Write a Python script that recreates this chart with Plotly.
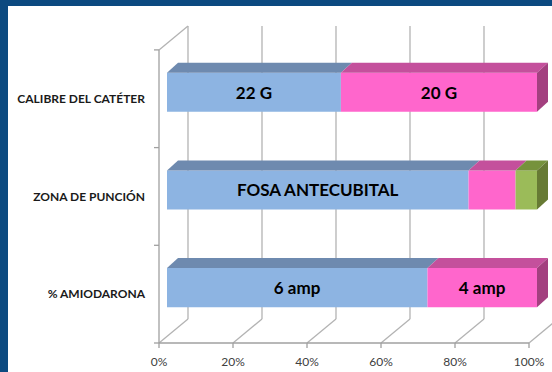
import plotly.graph_objects as go

# ---------------- data ----------------
categories = ["% AMIODARONA", "ZONA DE PUNCIÓN", "CALIBRE DEL CATÉTER"]  # bottom -> top
serie1 = [70.4, 81.5, 47.0]
serie2 = [29.6, 12.7, 53.0]
serie3 = [0.0, 5.8, 0.0]
labels1 = ["6 amp", "FOSA ANTECUBITAL", "22 G"]
labels2 = ["4 amp", "", "20 G"]
labels3 = ["", "", ""]
x_ticks = [0, 20, 40, 60, 80, 100]
x_tick_labels = ["0%", "20%", "40%", "60%", "80%", "100%"]

# ---------------- style / projection ----------------
W, H = 552, 372
PX_X = 3.7          # pixels per percent
PX_Y = 97.7         # pixels per category unit
X0PIX, Y0PIX = 159, 343
ML, MT, MB = 150, 20, 23
DX, DY = 29 / PX_X, 24 / PX_Y          # full wall depth
OX, OY = 8 / PX_X, 6.5 / PX_Y          # bar front-plane offset
BDX, BDY = 11 / PX_X, 10 / PX_Y        # bar depth
BH = 0.4                               # bar thickness
TKX, TKY = 5 / PX_X, 5 / PX_Y          # tick lengths

xmin = (ML - X0PIX) / PX_X
xmax = (W - X0PIX) / PX_X
ymin = -(H - MB - Y0PIX) / PX_Y
ymax = (Y0PIX - MT) / PX_Y
ncat = len(categories)
centers = [i + 0.5 for i in range(ncat)]

series = [
    (serie1, labels1, "#8DB4E2", "#6E8AAF", "#5F7BA0"),
    (serie2, labels2, "#FF66CC", "#C4509C", "#A3407F"),
    (serie3, labels3, "#9BBB59", "#76923C", "#677A34"),
]

fig = go.Figure()
shapes = []
grid = dict(color="#B3B3B3", width=1.3)
axis_line = dict(color="#A0A0A0", width=1.3)

# back wall vertical gridlines and floor diagonals
for t in x_ticks:
    shapes.append(dict(type="line", xref="x", yref="y", layer="below",
                       x0=t + DX, y0=DY, x1=t + DX, y1=ncat + DY, line=grid))
    shapes.append(dict(type="line", xref="x", yref="y", layer="below",
                       x0=t, y0=0, x1=t + DX, y1=DY, line=grid))
    shapes.append(dict(type="line", xref="x", yref="y", layer="below",
                       x0=t, y0=0, x1=t, y1=-TKY, line=axis_line))
# left wall top diagonal
shapes.append(dict(type="line", xref="x", yref="y", layer="below",
                   x0=0, y0=ncat, x1=DX, y1=ncat + DY, line=grid))
# front axes
shapes.append(dict(type="line", xref="x", yref="y", layer="below",
                   x0=x_ticks[0], y0=0, x1=x_ticks[-1], y1=0, line=axis_line))
shapes.append(dict(type="line", xref="x", yref="y", layer="below",
                   x0=0, y0=0, x1=0, y1=ncat, line=axis_line))
for k in range(ncat + 1):
    shapes.append(dict(type="line", xref="x", yref="y", layer="below",
                       x0=0, y0=k, x1=-TKX, y1=k, line=axis_line))

# white card with dark blue frame
shapes.append(dict(type="rect", xref="paper", yref="paper", layer="below",
                   x0=(8 - ML) / (W - ML), x1=1.2,
                   y0=-0.5, y1=(H - MB - 6) / (H - MB - MT),
                   fillcolor="white", line=dict(width=0)))

# bars: front faces
cum = [0.0] * ncat
segments = []
for vals, labs, front, top, side in series:
    fig.add_trace(go.Bar(
        orientation="h",
        y=[c + OY for c in centers],
        x=vals,
        base=[b + OX for b in cum],
        width=BH,
        marker=dict(color=front, line=dict(width=0)),
        text=labs,
        textposition="inside",
        insidetextanchor="middle",
        textangle=0,
        constraintext="none",
        textfont=dict(family="Lato", size=17, color="black", weight="bold"),
        hoverinfo="skip",
        showlegend=False,
    ))
    for i in range(ncat):
        segments.append((i, cum[i], cum[i] + vals[i], top, side, vals[i]))
    cum = [cum[i] + vals[i] for i in range(ncat)]

# top faces and right-side faces
last_seg = {}
for seg in segments:
    i, a, b, top, side, v = seg
    if v <= 0:
        continue
    last_seg[i] = seg
    yt = centers[i] + OY + BH / 2
    fig.add_trace(go.Scatter(
        x=[a + OX, b + OX, b + OX + BDX, a + OX + BDX, a + OX],
        y=[yt, yt, yt + BDY, yt + BDY, yt],
        mode="lines", fill="toself", fillcolor=top,
        line=dict(width=0, color=top), hoverinfo="skip", showlegend=False))
for i, seg in last_seg.items():
    _, a, b, top, side, v = seg
    yb = centers[i] + OY - BH / 2
    yt = centers[i] + OY + BH / 2
    fig.add_trace(go.Scatter(
        x=[b + OX, b + OX + BDX, b + OX + BDX, b + OX, b + OX],
        y=[yb, yb + BDY, yt + BDY, yt, yb],
        mode="lines", fill="toself", fillcolor=side,
        line=dict(width=0, color=side), hoverinfo="skip", showlegend=False))

fig.update_layout(
    width=W, height=H,
    margin=dict(l=ML, r=0, t=MT, b=MB),
    paper_bgcolor="#0C4A80",
    plot_bgcolor="rgba(0,0,0,0)",
    barmode="overlay",
    template="none",
    shapes=shapes,
    xaxis=dict(range=[xmin, xmax], tickvals=x_ticks, ticktext=x_tick_labels,
               showgrid=False, zeroline=False, showline=False, ticks="",
               tickfont=dict(family="Lato", size=12, color="#404040"),
               ticklabelstandoff=4, fixedrange=True),
    yaxis=dict(range=[ymin, ymax], tickvals=centers, ticktext=categories,
               showgrid=False, zeroline=False, showline=False, ticks="",
               tickfont=dict(family="Lato", size=12, color="#1A1A1A", weight="bold"),
               ticklabelstandoff=4, fixedrange=True),
)

fig.write_html("out.html")
